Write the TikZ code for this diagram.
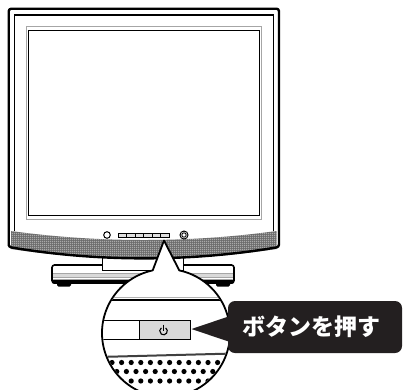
\documentclass[tikz,border=0pt]{standalone}
\usepackage{fontspec}
\newfontfamily\jpfont{Noto Sans CJK JP}
\usetikzlibrary{patterns,calc}
\definecolor{calloutdark}{HTML}{231F20}
\definecolor{keygray}{HTML}{D9D9D9}
\definecolor{meshgray}{HTML}{6A6A6A}
% fine speaker mesh: light holes on a grey ground
\pgfdeclarepatternformonly{speakerholes}{\pgfqpoint{0pt}{0pt}}{\pgfqpoint{2pt}{2pt}}{\pgfqpoint{2pt}{2pt}}{%
  \pgfpathrectangle{\pgfqpoint{0.5pt}{0.5pt}}{\pgfqpoint{1pt}{1pt}}%
  \pgfusepath{fill}}
\begin{document}
\begin{tikzpicture}[x=1pt,y=-1pt,
  heavy/.style={draw=black,line width=2.4pt,line join=round},
  fine/.style={draw=black,line width=1pt}]
\useasboundingbox (0,0) rectangle (403,389);
\clip (0,0) rectangle (403,389);

% ---- stand base ----
\draw[line width=1.6pt,fill=white,rounded corners=2.5pt] (52,265) rectangle (234,283);
\fill[gray!30] (53,273) rectangle (233,277.5);
\draw[gray!70,line width=0.6pt] (53,273) -- (233,273) (53,277.5) -- (233,277.5);
\fill[rounded corners=2pt] (52,279.5) rectangle (234,283.8);
\fill[rounded corners=1.5pt] (57,282) rectangle (71,286.5);
\fill[rounded corners=1.5pt] (216,282) rectangle (230,286.5);

% ---- neck ----
\fill[white] (102,250) rectangle (183,270);
\draw[fine] (102,250) -- (102,270) -- (183,270) -- (183,250);

% ---- bezel ----
\fill[white] (8.7,247) -- (8.7,8.7) -- (279,8.7) -- (279,247)
  .. controls (190,262) and (98,262) .. cycle;
\path[fill=meshgray]
  (11,231) .. controls (98,243) and (190,243) .. (276.5,231)
  -- (276.5,249) .. controls (190,262) and (98,262) .. (11,249) -- cycle;
\path[pattern=speakerholes,pattern color=white]
  (11,231) .. controls (98,243) and (190,243) .. (276.5,231)
  -- (276.5,249) .. controls (190,262) and (98,262) .. (11,249) -- cycle;
\draw[heavy,rounded corners=2.5pt] (8.7,247) -- (8.7,8.7) -- (279,8.7) -- (279,247)
  .. controls (190,262) and (98,262) .. cycle;
\draw[line width=1.1pt] (14.5,231) -- (14.5,15) -- (273.3,15) -- (273.3,231);

% ---- screen ----
\draw[gray!70,line width=0.8pt] (26.8,26.8) rectangle (261,219);
\draw[line width=1.1pt] (28.7,30.5) rectangle (259.3,215.5);

% ---- front controls ----
\draw[fine,fill=white] (107,235) circle (3.3);
\draw[line width=0.9pt,fill=gray!25] (118,233) rectangle (169,237.5);
\foreach \i in {1,...,5} \draw[line width=0.7pt] (118+\i*8.5,233) -- (118+\i*8.5,237.5);
\draw[fine,fill=white] (184,235) circle (4);
\draw[line width=0.8pt] (184,235) circle (2.2);

% ---- magnifier ----
\coordinate (mc) at (166,333);
\coordinate (tip) at (164,240.5);
\draw[line width=1.8pt,fill=white,line join=round] (tip) -- ($(mc)+(-102:64)$)
  arc[start angle=-102,end angle=-438,radius=64] -- cycle;
\begin{scope}
  \clip (mc) circle (63);
  \draw[gray!60,line width=0.8pt] (98,297.5) -- (234,297.5);
  \draw[line width=1.1pt] (98,300) -- (234,300);
  \draw[line width=1.2pt] (98,320.5) -- (190,320.5) (98,339.5) -- (190,339.5);
  \draw[fine,fill=keygray] (139,320.5) rectangle (190,339.5);
  \coordinate (pw) at (163.5,331);
  \draw[line width=1.1pt] ($(pw)+(-55:3.8)$) arc[start angle=-55,end angle=235,radius=3.8];
  \draw[line width=1.1pt] (163.5,324.6) -- (163.5,330.5);
  \draw[gray!50!black,line width=2pt] (98,357) -- (234,353.5);
  \foreach \c in {0,...,12} {
    \fill (112+\c*9.6,362.5) circle (2.6);
    \fill (116.8+\c*9.6,371.5) circle (2.6);
    \fill (112+\c*9.6,381) circle (2.6);
  }
\end{scope}

% ---- callout ----
\fill[calloutdark,rounded corners=7pt] (228,301) rectangle (402,353);
\fill[calloutdark] (191.5,329) -- (230,316) -- (230,342) -- cycle;
\node[text=white,inner sep=0pt,font=\jpfont\bfseries\fontsize{23}{23}\selectfont] (label) at (311,327) {ボタンを押す};
\end{tikzpicture}
\end{document}
